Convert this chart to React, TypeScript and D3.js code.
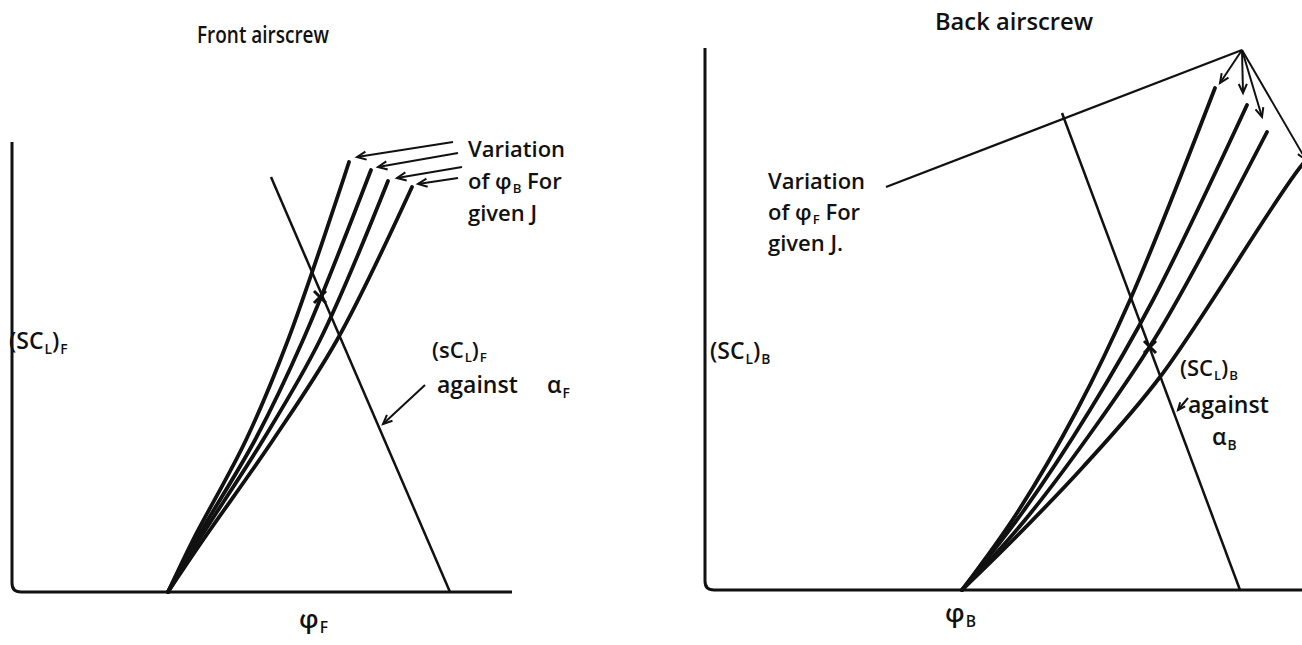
import React from 'react';
import * as d3 from 'd3';

const W = 1302;
const H = 645;

type P = [number, number];

// ---------- Front airscrew (left panel), arbitrary units ----------
const frontCurves: P[][] = [
  [[31.2, 0], [36.2, 10.4], [46.8, 30.4], [55.2, 50.4], [67.4, 86]],
  [[31.2, 0], [36.8, 10.4], [48.6, 30.4], [58.2, 50.4], [71.8, 84.4]],
  [[31.2, 0], [37.4, 10.4], [50.2, 30.4], [61.6, 50.4], [75.2, 82.2]],
  [[31.2, 0], [38.2, 10.4], [52.2, 30.4], [65.0, 50.4], [80.0, 81.0]],
];
const frontAlphaLine: P[] = [[51.8, 83], [87.6, 0]];
const frontCross: P = [61.6, 59];
const frontAxis = { top: 90, right: 100 };
const frontVarArrows: [P, P][] = [
  [[88.2, 90], [69.0, 87.0]],
  [[89.2, 87.8], [73.2, 85.0]],
  [[90.0, 85.0], [77.0, 82.8]],
  [[89.2, 82.8], [81.2, 81.6]],
];
const frontAlphaArrow: [P, P] = [[82.6, 41.4], [74.2, 33.6]];

// ---------- Back airscrew (right panel), arbitrary units ----------
const backCurves: P[][] = [
  [[51.4, 0], [62.4, 15.4], [74.4, 36], [85.0, 58], [102.0, 100.4]],
  [[51.4, 0], [63.4, 15.4], [77.0, 36], [89.6, 58], [108.4, 97.0]],
  [[51.4, 0], [64.0, 14.0], [79.0, 34], [91.0, 52], [112.4, 91.6]],
  [[51.4, 0], [62.0, 10.4], [75.6, 24.6], [91.0, 42.6], [119.4, 85], [122.6, 88]],
];
const backAlphaLine: P[] = [[71.4, 95.4], [107, 0]];
const backCross: P = [89, 48.6];
const backAxis = { top: 108.4, right: 120 };
const backApex: P = [107.4, 108];
const backArrowHeads: P[] = [[103, 101.4], [107.6, 99.4], [111.4, 94.6], [120.2, 86]];
const backNoteLineStart: P = [36.2, 80.6];
const backAlphaArrow: [P, P] = [[96.6, 38.4], [94.6, 36.0]];

// ---------- Text ----------
type Seg = [string, boolean]; // [text, subscript?]
const frontTitle = 'Front airscrew';
const backTitle = 'Back airscrew';
const frontNote: Seg[][] = [
  [['Variation', false]],
  [['of φ', false], ['B', true], [' For', false]],
  [['given J', false]],
];
const backNote: Seg[][] = [
  [['Variation', false]],
  [['of φ', false], ['F', true], [' For', false]],
  [['given J.', false]],
];
const frontYLabel: Seg[] = [['(SC', false], ['L', true], [')', false], ['F', true]];
const backYLabel: Seg[] = [['(SC', false], ['L', true], [')', false], ['B', true]];
const frontXLabel: Seg[] = [['φ', false], ['F', true]];
const backXLabel: Seg[] = [['φ', false], ['B', true]];
const frontAlphaNote: Seg[][] = [
  [['(sC', false], ['L', true], [')', false], ['F', true]],
  [['against', false]],
  [['α', false], ['F', true]],
];
const backAlphaNote: Seg[][] = [
  [['(SC', false], ['L', true], [')', false], ['B', true]],
  [['against', false]],
  [['α', false], ['B', true]],
];

const FONT = "'Open Sans', 'DejaVu Sans', sans-serif";

function Label({ x, y, segs, size = 22 }: { x: number; y: number; segs: Seg[]; size?: number }) {
  let sub = false;
  return (
    <text x={x} y={y} fontFamily={FONT} fontSize={size} fontWeight={600} fill="#111">
      {segs.map(([t, s], i) => {
        const dy = s && !sub ? size * 0.2 : !s && sub ? -size * 0.2 : 0;
        sub = s;
        return (
          <tspan key={i} dy={dy} fontSize={s ? size * 0.6 : size} dx={s ? 1 : 0}>
            {t}
          </tspan>
        );
      })}
    </text>
  );
}

function arrowHead(from: [number, number], to: [number, number], len = 10, ang = 0.42) {
  const a = Math.atan2(to[1] - from[1], to[0] - from[0]);
  const p1 = [to[0] - len * Math.cos(a - ang), to[1] - len * Math.sin(a - ang)];
  const p2 = [to[0] - len * Math.cos(a + ang), to[1] - len * Math.sin(a + ang)];
  return `M${p1[0]},${p1[1]}L${to[0]},${to[1]}L${p2[0]},${p2[1]}`;
}

function axisPath(x0: number, yTop: number, yBot: number, xRight: number, r = 9) {
  return `M${x0},${yTop}L${x0},${yBot - r}Q${x0},${yBot} ${x0 + r},${yBot}L${xRight},${yBot}`;
}

function crossPath(c: [number, number], s = 6) {
  return `M${c[0] - s},${c[1] - s}L${c[0] + s},${c[1] + s}M${c[0] + s},${c[1] - s}L${c[0] - s},${c[1] + s}`;
}

export default function App() {
  // left panel scales
  const fx = d3.scaleLinear().domain([0, 100]).range([12, 512]);
  const fy = d3.scaleLinear().domain([0, 100]).range([592, 92]);
  // right panel scales
  const bx = d3.scaleLinear().domain([0, 100]).range([705, 1205]);
  const by = d3.scaleLinear().domain([0, 100]).range([590, 90]);

  const fLine = d3.line<P>().x((d) => fx(d[0])).y((d) => fy(d[1])).curve(d3.curveCatmullRom.alpha(0.5));
  const bLine = d3.line<P>().x((d) => bx(d[0])).y((d) => by(d[1])).curve(d3.curveCatmullRom.alpha(0.5));
  const fStraight = d3.line<P>().x((d) => fx(d[0])).y((d) => fy(d[1]));
  const bStraight = d3.line<P>().x((d) => bx(d[0])).y((d) => by(d[1]));

  const fpt = (p: P): [number, number] => [fx(p[0]), fy(p[1])];
  const bpt = (p: P): [number, number] => [bx(p[0]), by(p[1])];

  const stroke = '#111';

  return (
    <svg width={W} height={H} style={{ position: 'absolute', left: 0, top: 0, background: '#fff' }}>
      <rect width={W} height={H} fill="#fff" />
      {/* ---- Left panel ---- */}
      <path d={axisPath(fx(0), fy(frontAxis.top), fy(0), fx(frontAxis.right))} fill="none" stroke={stroke} strokeWidth={3} />
      {frontCurves.map((c, i) => (
        <path key={i} d={fLine(c) || ''} fill="none" stroke={stroke} strokeWidth={3.8} strokeLinecap="round" />
      ))}
      <path d={fStraight(frontAlphaLine) || ''} fill="none" stroke={stroke} strokeWidth={2.5} />
      <path d={crossPath(fpt(frontCross))} stroke={stroke} strokeWidth={3} />
      {frontVarArrows.map(([a, b], i) => (
        <g key={i}>
          <path d={fStraight([a, b]) || ''} stroke={stroke} strokeWidth={2} fill="none" />
          <path d={arrowHead(fpt(a), fpt(b))} stroke={stroke} strokeWidth={2} fill="none" />
        </g>
      ))}
      <path d={fStraight(frontAlphaArrow) || ''} stroke={stroke} strokeWidth={2} fill="none" />
      <path d={arrowHead(fpt(frontAlphaArrow[0]), fpt(frontAlphaArrow[1]))} stroke={stroke} strokeWidth={2} fill="none" />

      <text x={197} y={43} fontFamily={FONT} fontSize={23} fontWeight={600} fill="#111"
        textLength={132} lengthAdjust="spacingAndGlyphs">{frontTitle}</text>
      {frontNote.map((segs, i) => (
        <Label key={i} x={468} y={157 + i * 32} segs={segs} size={22} />
      ))}
      <Label x={9} y={349} segs={frontYLabel} size={23} />
      <Label x={299} y={628} segs={frontXLabel} size={26} />
      <Label x={432} y={358} segs={frontAlphaNote[0]} size={22} />
      <Label x={437} y={393} segs={frontAlphaNote[1]} size={23} />
      <Label x={547} y={393} segs={frontAlphaNote[2]} size={23} />

      {/* ---- Right panel ---- */}
      <path d={axisPath(bx(0), by(backAxis.top), by(0), bx(backAxis.right))} fill="none" stroke={stroke} strokeWidth={3} />
      {backCurves.map((c, i) => (
        <path key={i} d={bLine(c) || ''} fill="none" stroke={stroke} strokeWidth={3.8} strokeLinecap="round" />
      ))}
      <path d={bStraight(backAlphaLine) || ''} fill="none" stroke={stroke} strokeWidth={2.5} />
      <path d={crossPath(bpt(backCross))} stroke={stroke} strokeWidth={3} />
      <path d={bStraight([backNoteLineStart, backApex]) || ''} stroke={stroke} strokeWidth={2.2} fill="none" />
      {backArrowHeads.map((h, i) => (
        <g key={i}>
          <path d={bStraight([backApex, h]) || ''} stroke={stroke} strokeWidth={2} fill="none" />
          <path d={arrowHead(bpt(backApex), bpt(h))} stroke={stroke} strokeWidth={2} fill="none" />
        </g>
      ))}
      <path d={bStraight(backAlphaArrow) || ''} stroke={stroke} strokeWidth={2} fill="none" />
      <path d={arrowHead(bpt(backAlphaArrow[0]), bpt(backAlphaArrow[1]), 8)} stroke={stroke} strokeWidth={2} fill="none" />

      <text x={935} y={30} fontFamily={FONT} fontSize={23} fontWeight={600} fill="#111"
        textLength={158} lengthAdjust="spacingAndGlyphs">{backTitle}</text>
      {backNote.map((segs, i) => (
        <Label key={i} x={768} y={189 + i * 31} segs={segs} size={22} />
      ))}
      <Label x={710} y={359} segs={backYLabel} size={23} />
      <Label x={945} y={622} segs={backXLabel} size={26} />
      <Label x={1180} y={376} segs={backAlphaNote[0]} size={22} />
      <Label x={1188} y={413} segs={backAlphaNote[1]} size={23} />
      <Label x={1212} y={445} segs={backAlphaNote[2]} size={23} />
    </svg>
  );
}
